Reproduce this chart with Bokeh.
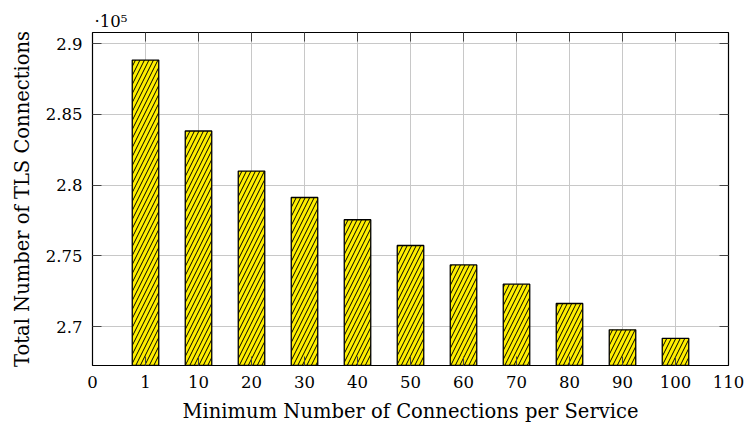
from bokeh.plotting import figure
from bokeh.models import Range1d, FixedTicker, LinearAxis
from bokeh.embed import file_html
from bokeh.resources import INLINE

tick_labels = ["0", "1", "10", "20", "30", "40", "50", "60", "70", "80", "90", "100", "110"]
categories = ["1", "10", "20", "30", "40", "50", "60", "70", "80", "90", "100"]
connections = [288830, 283820, 280990, 279120, 277550, 275730, 274360, 273000, 271630, 269770, 269170]
y_ticks = [270000, 275000, 280000, 285000, 290000]
y_tick_labels = ["2.7", "2.75", "2.8", "2.85", "2.9"]

FONT = "DejaVu Serif"
TICK_FS = "16.5px"
LABEL_FS = "19.5px"

x_pos = [tick_labels.index(c) for c in categories]
x_ticks = list(range(len(tick_labels)))

p = figure(width=746, height=430, output_backend="svg", toolbar_location=None,
           x_range=Range1d(0, len(tick_labels) - 1), y_range=Range1d(267250, 290780),
           min_border_left=92, min_border_right=18, min_border_top=32, min_border_bottom=65)

p.vbar(x=x_pos, top=connections, bottom=260000, width=0.5,
       fill_color="#ffef00", line_color="black", line_width=1.3,
       hatch_pattern="/", hatch_color="black", hatch_weight=1, hatch_scale=9)

p.outline_line_color = "black"
p.outline_line_width = 1.2
p.background_fill_color = "white"
p.border_fill_color = "white"

p.xaxis.ticker = FixedTicker(ticks=x_ticks)
p.xaxis.major_label_overrides = {i: t for i, t in enumerate(tick_labels)}
p.yaxis.ticker = FixedTicker(ticks=y_ticks)
p.yaxis.major_label_overrides = {v: t for v, t in zip(y_ticks, y_tick_labels)}

p.xaxis.axis_label = "Minimum Number of Connections per Service"
p.yaxis.axis_label = "Total Number of TLS Connections"

for ax in (p.xaxis[0], p.yaxis[0]):
    ax.major_tick_in = 9
    ax.major_tick_out = 0
    ax.minor_tick_in = 0
    ax.minor_tick_out = 0
    ax.major_tick_line_color = "#444444"
    ax.axis_line_color = "black"
    ax.major_label_text_font = FONT
    ax.major_label_text_font_size = TICK_FS
    ax.major_label_text_color = "black"
    ax.axis_label_text_font = FONT
    ax.axis_label_text_font_size = LABEL_FS
    ax.axis_label_text_font_style = "normal"
    ax.axis_label_text_color = "black"
    ax.major_label_standoff = 10

p.xaxis.axis_label_standoff = 9
p.yaxis.axis_label_standoff = 9
p.yaxis.major_label_orientation = "horizontal"

p.xgrid.ticker = FixedTicker(ticks=x_ticks)
p.ygrid.ticker = FixedTicker(ticks=y_ticks)
p.grid.grid_line_color = "#c8c8c8"
p.grid.grid_line_width = 1

top_ax = LinearAxis(ticker=FixedTicker(ticks=x_ticks), major_label_text_font_size="0px",
                    major_label_standoff=0, major_tick_in=9, major_tick_out=0,
                    minor_tick_in=0, minor_tick_out=0, major_tick_line_color="#444444",
                    axis_line_color="black")
right_ax = LinearAxis(ticker=FixedTicker(ticks=y_ticks), major_label_text_font_size="0px",
                      major_label_standoff=0, major_tick_in=9, major_tick_out=0,
                      minor_tick_in=0, minor_tick_out=0, major_tick_line_color="#444444",
                      axis_line_color="black")
p.add_layout(top_ax, "above")
p.add_layout(right_ax, "right")

p.title.text = "·10⁵"
p.title.align = "left"
p.title.text_font = FONT
p.title.text_font_size = "16.5px"
p.title.text_font_style = "normal"
p.title.text_color = "black"
p.title.offset = 2
p.title.standoff = 3

open("out.html", "w").write(file_html(p, INLINE))
